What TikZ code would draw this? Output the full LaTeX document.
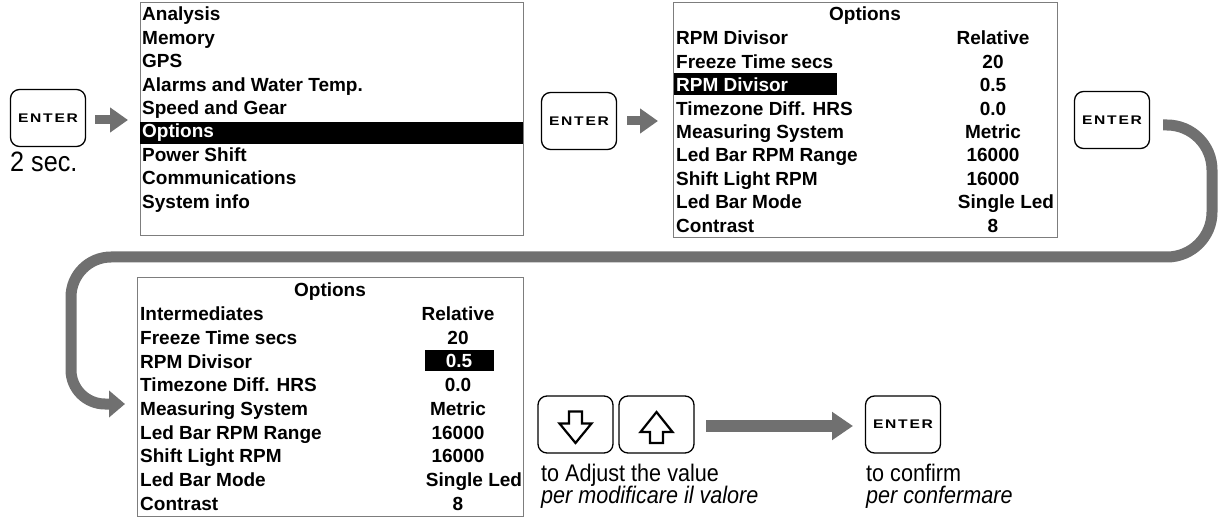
\documentclass[tikz,border=0pt]{standalone}
\usepackage{fontspec}
\setmainfont{Liberation Sans}
\newfontfamily\keyfont[LetterSpace=14,FakeStretch=1.25]{Liberation Sans}
\newfontfamily\notefont[FakeStretch=0.9]{Liberation Sans}
\usetikzlibrary{arrows.meta}
\definecolor{arrowgray}{RGB}{112,112,112}
\definecolor{boxgray}{RGB}{125,125,125}
\begin{document}
\begin{tikzpicture}[x=1pt,y=-1pt,
  key/.style={draw=black,line width=1.3pt,rounded corners=9pt,minimum width=75pt,minimum height=57pt,inner sep=0pt,font=\keyfont\bfseries\fontsize{12.5}{12.5}\selectfont},
  screen/.style={draw=boxgray,line width=1pt,inner sep=0pt},
  mtext/.style={anchor=base west,inner sep=0pt,font=\bfseries\fontsize{19}{19}\selectfont},
  vtext/.style={anchor=base,inner sep=0pt,font=\bfseries\fontsize{19}{19}\selectfont},
  note/.style={anchor=base west,inner sep=0pt,font=\notefont\fontsize{24}{24}\selectfont},
  inote/.style={anchor=base west,inner sep=0pt,font=\notefont\itshape\fontsize{24}{24}\selectfont},
  flow/.style={draw=arrowgray,line width=9pt,-{Triangle[length=18pt,width=24pt]}},
  bigflow/.style={draw=arrowgray,line width=12pt,-{Triangle[length=21pt,width=27pt]}},
  icon/.style={draw=black,line width=2.2pt,line join=miter}
]
\useasboundingbox (0,0) rectangle (1223,518);

% ---- keys ----
\node[key] (k1) at (48,118) {ENTER};
\node[note,font=\notefont\fontsize{28}{28}\selectfont] (sec) at (10,172) {2 sec.};
\node[key] (k2) at (579,121) {ENTER};
\node[key] (k3) at (1112,120) {ENTER};
\node[key] (kd) at (575.5,424.5) {};
\node[key] (ku) at (656.5,424.5) {};
\node[key] (k4) at (903,424.5) {ENTER};

% up/down icons
\draw[icon,shift={(kd.center)}] (-6.5,-13) -- (6.5,-13) -- (6.5,-1) -- (16,-1) -- (0,18.5) -- (-16,-1) -- (-6.5,-1) -- cycle;
\draw[icon,shift={(ku.center)}] (-6.5,18.5) -- (6.5,18.5) -- (6.5,7.5) -- (16,7.5) -- (0,-12.5) -- (-16,7.5) -- (-6.5,7.5) -- cycle;

% ---- menu screen ----
\node[screen,minimum width=383pt,minimum height=233pt] (menu) at (331.5,119.5) {};
\fill[black] (140,122) rectangle (523,144);
\foreach \t [count=\i] in {Analysis,Memory,GPS,Alarms and Water Temp.,Speed and Gear,Options,Power Shift,Communications,System info}{
  \ifnum\i=6
    \node[mtext,text=white] (m\i) at (142,{21+23.4*(\i-1)}) {\t};
  \else
    \node[mtext] (m\i) at (142,{21+23.4*(\i-1)}) {\t};
  \fi
}

% ---- options screen 1 ----
\node[screen,minimum width=384pt,minimum height=235pt] (opt1) at (865,120.5) {};
\node[vtext] (o1title) at (865,21) {Options};
\fill[black] (674,73) rectangle (837,95);
\foreach \t [count=\i] in {RPM Divisor,Freeze Time secs,RPM Divisor,Timezone Diff. HRS,Measuring System,Led Bar RPM Range,Shift Light RPM,Led Bar Mode,Contrast}{
  \ifnum\i=3
    \node[mtext,text=white] (a\i) at (676,{45+23.4*(\i-1)}) {\t};
  \else
    \node[mtext] (a\i) at (676,{45+23.4*(\i-1)}) {\t};
  \fi
}
\foreach \v [count=\i] in {Relative,20,0.5,0.0,Metric,16000,16000,,8}{
  \node[vtext] (av\i) at (993,{45+23.4*(\i-1)}) {\v};
}
\node[vtext] (av8b) at (1006,208.8) {Single Led};

% ---- options screen 2 ----
\node[screen,minimum width=386pt,minimum height=238pt] (opt2) at (330,397) {};
\node[vtext] (o2title) at (330,297) {Options};
\fill[black] (425,350) rectangle (494,371);
\foreach \t [count=\i] in {Intermediates,Freeze Time secs,RPM Divisor,Timezone Diff. HRS,Measuring System,Led Bar RPM Range,Shift Light RPM,Led Bar Mode,Contrast}{
  \node[mtext] (b\i) at (140,{321+23.65*(\i-1)}) {\t};
}
\foreach \v [count=\i] in {Relative,20,,0.0,Metric,16000,16000,,8}{
  \node[vtext] (bv\i) at (458,{321+23.65*(\i-1)}) {\v};
}
\node[vtext,text=white] (bv3b) at (459,367.3) {0.5};
\node[vtext] (bv8b) at (474,486.5) {Single Led};

% ---- notes ----
\node[note] (adj) at (541,481) {to Adjust the value};
\node[inote] (adjit) at (541,503) {per modificare il valore};
\node[note] (conf) at (866,481) {to confirm};
\node[inote] (confit) at (866,503) {per confermare};

% ---- connectors ----
\coordinate (a1s) at (95,120);
\coordinate (a1e) at (128,120);
\coordinate (a2s) at (627,121);
\coordinate (a2e) at (658,121);
\coordinate (a3s) at (706,426);
\coordinate (a3e) at (853,426);
\draw[flow] (a1s) -- (a1e);
\draw[flow] (a2s) -- (a2e);
\draw[bigflow] (a3s) -- (a3e);

\coordinate (c0) at (1163,125);
\coordinate (c1) at (1212,125);
\coordinate (c2) at (1212,257);
\coordinate (c3) at (71,257);
\coordinate (c4) at (71,404);
\coordinate (c5) at (125,404);
\draw[draw=arrowgray,line width=11pt,-{Triangle[length=16pt,width=26pt]}]
  (c0) [rounded corners=45pt] -- (c1) -- (c2) [rounded corners=40pt] -- (c3) [rounded corners=34pt] -- (c4) -- (c5);
\end{tikzpicture}
\end{document}
